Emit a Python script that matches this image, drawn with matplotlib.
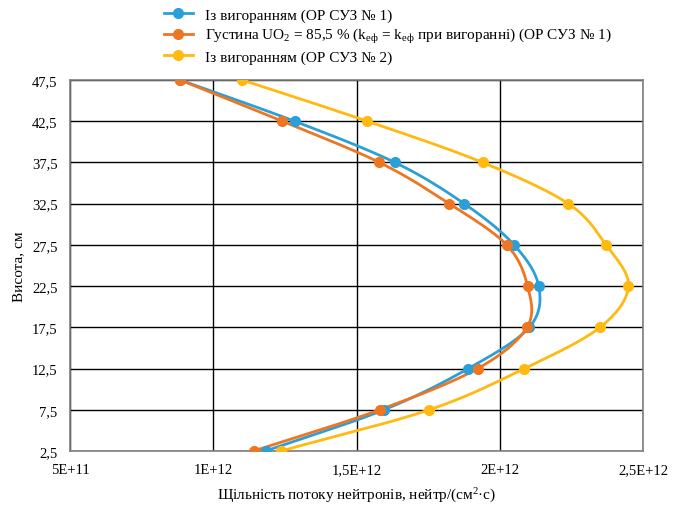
import numpy as np
import matplotlib.pyplot as plt
from matplotlib.ticker import FixedLocator, FixedFormatter

plt.rcParams['font.family'] = ['Liberation Serif', 'DejaVu Serif']
plt.rcParams['mathtext.fontset'] = 'custom'
plt.rcParams['mathtext.rm'] = 'Liberation Serif'
plt.rcParams['mathtext.it'] = 'Liberation Serif'

height = [2.5, 7.5, 12.5, 17.5, 22.5, 27.5, 32.5, 37.5, 42.5, 47.5]

flux_burn1 = [1.183e12, 1.596e12, 1.89e12, 2.103e12, 2.136e12,
              2.05e12, 1.876e12, 1.634e12, 1.284e12, 0.884e12]
flux_dens1 = [1.141e12, 1.581e12, 1.923e12, 2.095e12, 2.097e12,
              2.024e12, 1.824e12, 1.58e12, 1.241e12, 0.884e12]
flux_burn2 = [1.236e12, 1.754e12, 2.086e12, 2.35e12, 2.449e12,
              2.371e12, 2.239e12, 1.94e12, 1.538e12, 1.101e12]

labels = ['Із вигоранням (ОР СУЗ № 1)',
          'Густина UO$_2$ = 85,5 % (k$_{еф}$ = k$_{еф}$ при вигоранні) (ОР СУЗ № 1)',
          'Із вигоранням (ОР СУЗ № 2)']
colors = ['#2A9FD8', '#EE7623', '#FFB90F']

xticks = [5e11, 1e12, 1.5e12, 2e12, 2.5e12]
xticklabels = ['5E+11', '1E+12', '1,5E+12', '2E+12', '2,5E+12']
yticks = [2.5, 7.5, 12.5, 17.5, 22.5, 27.5, 32.5, 37.5, 42.5, 47.5]


def smooth(x, y, n=20):
    # catmull-rom through the points, like the smoothed excel line
    p = np.column_stack([x, y])
    p[:, 0] = p[:, 0] / 1e12
    p[:, 1] = p[:, 1] / 10.0
    ext = np.vstack([2 * p[0] - p[1], p, 2 * p[-1] - p[-2]])
    out = []
    for i in range(1, len(ext) - 2):
        p0, p1, p2, p3 = ext[i - 1], ext[i], ext[i + 1], ext[i + 2]
        t = np.linspace(0, 1, n)[:, None]
        seg = 0.5 * ((2 * p1) + (-p0 + p2) * t + (2 * p0 - 5 * p1 + 4 * p2 - p3) * t ** 2
                     + (-p0 + 3 * p1 - 3 * p2 + p3) * t ** 3)
        out.append(seg)
    out = np.vstack(out)
    return out[:, 0] * 1e12, out[:, 1] * 10.0


fig = plt.figure(figsize=(6.75, 5.06), dpi=100)
ax = fig.add_axes([70 / 675, 1 - 452 / 506, 573 / 675, 371 / 506])

for xs, c, lab in zip([flux_burn1, flux_dens1, flux_burn2], colors, labels):
    sx, sy = smooth(xs, height)
    ax.plot(sx, sy, color=c, lw=2, zorder=3)
    ax.plot(xs, height, 'o', color=c, ms=7, zorder=4)
    ax.plot([], [], '-o', color=c, lw=2, ms=7, label=lab)

ax.set_xlim(5e11, 2.5e12)
ax.set_ylim(2.5, 47.5)
ax.xaxis.set_major_locator(FixedLocator(xticks))
ax.xaxis.set_major_formatter(FixedFormatter(xticklabels))
ax.yaxis.set_major_locator(FixedLocator(yticks))
ax.yaxis.set_major_formatter(FixedFormatter([str(v).replace('.', ',') for v in yticks]))
ax.grid(True, color='black', lw=1)
ax.tick_params(length=0, labelsize=10.5, pad=9)
for s in ax.spines.values():
    s.set_color('#808080')
    s.set_linewidth(1.2)

ax.set_xlabel('Щільність потоку нейтронів, нейтр/(см$^2$·с)', fontsize=11, labelpad=7)
ax.set_ylabel('Висота, см', fontsize=11, labelpad=5)

fig.legend(loc='upper left', bbox_to_anchor=(150 / 675, 1.01), frameon=False,
           fontsize=11, handlelength=1.9, labelspacing=0.3, handletextpad=0.8)

plt.savefig('out.png', dpi=100)
